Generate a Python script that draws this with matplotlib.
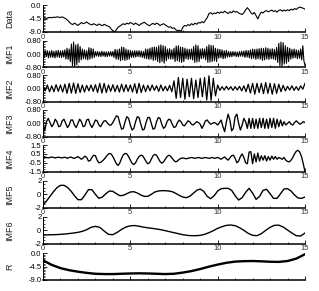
import numpy as np
import matplotlib
matplotlib.use("Agg")
import matplotlib.pyplot as plt
from matplotlib.ticker import FixedLocator, MultipleLocator

plt.rcParams['font.family'] = ['Liberation Sans', 'DejaVu Sans']

# ---------------- data ----------------
data_vals = [
    -4.5, -4.3, -4.4, -4.2, -4.1, -4.2, -4.0, -4.1, -3.9, -4.0,
    -4.1, -3.9, -4.2, -4.5, -5.0, -5.6, -6.2, -6.5, -6.0, -6.4,
    -6.8, -6.3, -5.8, -6.2, -6.0, -5.6, -6.1, -6.4, -6.6, -6.2,
    -6.5, -6.8, -6.3, -6.6, -6.9, -6.4, -6.7, -7.0, -7.2, -8.0,
    -8.6, -9.0, -8.2, -7.4, -7.0, -6.6, -6.2, -6.5, -6.0, -6.3,
    -5.8, -6.1, -6.5, -6.0, -6.4, -6.8, -6.3, -6.0, -5.7, -6.2,
    -6.6, -6.9, -6.4, -6.1, -6.5, -6.0, -6.3, -6.8, -6.5, -6.2,
    -6.6, -7.0, -7.4, -7.2, -7.8, -7.6, -8.2, -8.6, -8.4, -8.8,
    -7.5, -6.8, -7.0, -6.5, -6.8, -6.2, -6.6, -6.0, -6.4, -5.8,
    -6.0, -5.5, -5.9, -5.0, -4.2, -2.8, -2.5, -3.0, -2.6, -2.8,
    -2.3, -2.7, -2.2, -2.5, -2.0, -2.4, -2.8, -2.2, -2.5, -1.9,
    -2.3, -2.1, -2.6, -2.9, -3.1, -2.5, -1.6, -0.8, -1.5, -2.5,
    -3.0, -2.4, -3.5, -4.6, -3.2, -2.3, -2.6, -2.0, -1.8, -2.2,
    -1.9, -1.6, -2.1, -1.8, -2.3, -1.7, -1.5, -2.0, -1.6, -1.9,
    -1.5, -1.8, -1.3, -1.6, -1.1, -1.4, -0.9, -0.6, -0.8, -1.0,
    -1.3]

imf1_vals = [
    0.18, -0.2, 0.22, -0.15, 0.2, -0.22, 0.17, -0.19, 0.21, -0.2, 0.16, -0.23, 0.2, -0.18, 0.22, -0.2,
    0.19, -0.21, 0.2, -0.18, 0.25, -0.3, 0.35, -0.32, 0.3, -0.45, 0.6, -0.7, 0.72, -0.75, 0.55, -0.65,
    0.6, -0.5, 0.45, -0.35, 0.3, -0.28, 0.25, -0.3, 0.2, -0.35, 0.38, -0.3, 0.35, -0.25, 0.3, -0.2,
    0.15, -0.12, 0.16, -0.14, 0.13, -0.15, 0.17, -0.12, 0.14, -0.16, 0.13, -0.15, 0.14, -0.12, 0.15, -0.13,
    0.16, -0.2, 0.28, -0.3, 0.25, -0.32, 0.3, -0.4, 0.42, -0.35, 0.4, -0.38, 0.3, -0.35, 0.25, -0.3,
    0.22, -0.2, 0.18, -0.2, 0.2, -0.18, 0.19, -0.15, 0.2, -0.17, 0.18, -0.2, 0.15, -0.25, 0.3, -0.28,
    0.3, -0.32, 0.35, -0.3, 0.4, -0.38, 0.42, -0.35, 0.4, -0.45, 0.5, -0.52, 0.55, -0.45, 0.5, -0.55,
    0.45, -0.4, 0.3, -0.28, 0.32, -0.3, 0.25, -0.3, 0.35, -0.45, 0.48, -0.4, 0.5, -0.45, 0.42, -0.5,
    0.4, -0.45, 0.35, -0.28, 0.3, -0.32, 0.28, -0.3, 0.3, -0.35, 0.45, -0.5, 0.55, -0.48, 0.5, -0.45,
    0.3, -0.28, 0.32, -0.25, 0.3, -0.35, 0.45, -0.5, 0.55, -0.48, 0.52, -0.45, 0.5, -0.4, 0.35, -0.45,
    0.3, -0.25, 0.28, -0.22, 0.25, -0.28, 0.2, -0.25, 0.22, -0.18, 0.15, -0.17, 0.14, -0.16, 0.15, -0.12,
    0.14, -0.15, 0.12, -0.16, 0.15, -0.13, 0.16, -0.14, 0.18, -0.2, 0.22, -0.18, 0.2, -0.22, 0.25, -0.28,
    0.3, -0.25, 0.28, -0.32, 0.3, -0.28, 0.32, -0.3, 0.35, -0.38, 0.33, -0.35, 0.38, -0.3, 0.35, -0.32,
    0.3, -0.28, 0.32, -0.3, 0.28, -0.35, 0.4, -0.5, 0.65, -0.7, 0.72, -0.75, 0.68, -0.6, 0.5, -0.55,
    0.4, -0.45, 0.35, -0.3, 0.28, -0.25, 0.3, -0.22, 0.25, -0.28, 0.22, -0.25, 0.3, -0.35, 0.5, -0.4,
    -0.7]

imf2_vals = [
    0.1, -0.15, 0.2, -0.2, 0.15, -0.2, 0.22, -0.18,
    0.2, -0.22, 0.25, -0.3, 0.3, -0.28, 0.32, -0.3,
    0.28, -0.25, 0.2, -0.22, 0.18, -0.15, 0.2, -0.18,
    0.22, -0.25, 0.3, -0.28, 0.3, -0.25, 0.2, -0.18,
    0.22, -0.2, 0.18, -0.22, 0.25, -0.2, 0.22, -0.18,
    0.2, -0.22, 0.28, -0.3, 0.3, -0.25, 0.2, -0.2,
    0.18, -0.15, 0.2, -0.12, 0.15, -0.18, 0.2, -0.15,
    0.12, -0.15, 0.18, -0.2, 0.45, -0.6, 0.65, -0.55,
    0.6, -0.65, 0.55, -0.5, 0.6, -0.62, 0.5, -0.55,
    0.6, -0.5, 0.65, -0.7, 0.75, -0.72, 0.6, -0.45,
    0.2, -0.12, 0.1, -0.1, 0.12, -0.08, 0.1, -0.12,
    0.1, -0.1, 0.12, -0.15, 0.15, -0.2, 0.25, -0.28,
    0.3, -0.35, 0.3, -0.25, 0.3, -0.32, 0.35, -0.3,
    0.3, -0.35, 0.28, -0.3, 0.25, -0.2, 0.18, -0.15,
    0.12, -0.1, 0.15, -0.12, 0.1, -0.12, 0.15, -0.05,
    0.3]

imf3_vals = [
    0.0, -0.45, 0.1, 0.3, 0.05, -0.2, -0.05, 0.25, 0.1, -0.2,
    -0.15, 0.15, 0.25, 0.0, -0.25, -0.1, 0.2, 0.2, -0.1, -0.25,
    0.0, 0.25, 0.1, -0.2, -0.15, 0.2, 0.25, -0.05, -0.25, -0.05,
    0.2, 0.15, -0.1, -0.2, 0.0, 0.15, 0.15, 0.0, -0.1, -0.1,
    0.05, 0.25, 0.45, 0.4, 0.0, -0.35, -0.3, 0.1, 0.4, 0.3,
    -0.1, -0.4, -0.3, 0.1, 0.4, 0.35, -0.05, -0.4, -0.35, 0.05,
    0.35, 0.35, 0.0, -0.35, -0.3, 0.1, 0.35, 0.3, -0.05, -0.3,
    -0.2, 0.1, 0.25, 0.2, -0.05, -0.25, -0.2, 0.05, 0.2, 0.1,
    -0.1, -0.15, 0.0, 0.15, 0.1, -0.05, -0.1, 0.0, 0.1, 0.05,
    -0.05, -0.3, -0.1, 0.15, 0.2, 0.05, -0.05, 0.0, 0.05, 0.0,
    -0.1, 0.05, 0.2, -0.2, -0.5, 0.1, 0.55, 0.2, -0.45, -0.3,
    0.4, 0.55, 0.0, -0.4, -0.1, 0.3, 0.1, -0.3, 0.3, -0.3,
    0.3, -0.3, 0.25, -0.3, 0.3, -0.25, 0.3, -0.3, 0.25, -0.3,
    0.3, -0.25, 0.3, -0.3, 0.25, -0.2, 0.2, -0.15, 0.1, -0.1,
    0.0, 0.1, -0.05, -0.1, 0.05, 0.15, 0.05, -0.05, 0.0, 0.1,
    0.05]

imf4_vals = [
    0.1, 0.12, 0.1, 0.05, 0.1, 0.15, 0.1, 0.05, 0.1, 0.12,
    0.08, 0.05, 0.12, 0.1, 0.0, 0.1, 0.15, 0.05, 0.0, 0.1,
    0.2, 0.05, -0.1, 0.05, 0.25, 0.1, -0.3, -0.25, 0.1, 0.35,
    0.3, -0.2, -0.5, -0.45, -0.3, -0.1, 0.15, 0.4, 0.55, 0.5,
    0.2, -0.2, -0.6, -0.8, -0.5, 0.0, 0.4, 0.55, 0.5, 0.2,
    -0.2, -0.55, -0.7, -0.5, -0.1, 0.2, 0.35, 0.3, 0.0, -0.35,
    -0.6, -0.5, -0.1, 0.3, 0.45, 0.35, 0.0, -0.35, -0.55, -0.4,
    -0.1, 0.2, 0.35, 0.25, 0.0, -0.25, -0.4, -0.3, -0.1, 0.0,
    0.05, 0.0, -0.05, 0.0, 0.05, 0.1, 0.05, 0.0, 0.05, 0.1,
    0.05, 0.0, 0.05, 0.1, 0.05, 0.0, 0.05, 0.1, 0.0, 0.05,
    0.1, 0.0, -0.1, 0.05, 0.15, -0.05, -0.2, 0.05, 0.3, 0.35,
    0.0, -0.5, -0.3, 0.2, 0.5, 0.1, -0.5, -0.6, 0.7, 0.75,
    -0.6, 0.5, -0.4, 0.6, -0.3, 0.3, -0.2, 0.3, -0.3, 0.2,
    -0.2, 0.25, -0.1, 0.2, -0.1, 0.1, 0.0, -0.1, 0.1, -0.2,
    -0.35, -0.4, -0.2, 0.1, 0.5, 0.8, 0.9, 0.7, 0.2, -0.6,
    -1.5]

imf5_vals = [
    -1.6, -1.0, -0.3, 0.4, 1.0, 1.35, 1.35, 1.05, 0.5, -0.2,
    -0.8, -0.8, -0.1, 0.7, 0.7, 0.0, -0.6, -0.4, 0.1, 0.5,
    0.45, 0.1, -0.2, -0.15, 0.1, 0.35, 0.4, 0.2, -0.1, -0.3,
    -0.3, 0.0, 0.35, 0.5, 0.55, 0.55, 0.5, 0.4, 0.15, -0.15,
    -0.4, -0.5, -0.3, 0.15, 0.6, 0.8, 0.45, -0.3, -0.65, -0.2,
    0.5, 0.85, 0.9, 0.9, 0.6, -0.2, -0.85, -0.5, 0.3, 0.9,
    0.2, -0.75, -0.3, 0.6, 0.75, 0.1, -0.6, -0.6, 0.1, 0.8,
    0.85, 0.5, -0.1, -0.55, -0.6, -0.4]

imf6_vals = [
    -0.7, -0.68, -0.66, -0.64, -0.6, -0.55, -0.48, -0.4, -0.3, -0.15,
    0.1, 0.45, 0.6, 0.45, -0.1, -0.6, -0.65, -0.3, 0.15, 0.5,
    0.68, 0.72, 0.62, 0.48, 0.38, 0.3, 0.2, 0.1, -0.05, -0.2,
    -0.35, -0.5, -0.65, -0.75, -0.8, -0.8, -0.75, -0.6, -0.35, -0.05,
    0.3, 0.55, 0.75, 0.8, 0.7, 0.4, 0.0, -0.45, -0.75, -0.8,
    -0.5, 0.0, 0.45, 0.75, 0.78, 0.5, 0.05, -0.4, -0.8, -0.85,
    -0.4]

r_vals = [
    -2.4, -3.9, -5.0, -5.7, -6.2, -6.6, -6.9, -7.0, -7.0, -6.9,
    -6.8, -6.75, -6.8, -6.9, -7.0, -6.9, -6.5, -6.0, -5.3, -4.5,
    -3.8, -3.2, -2.8, -2.65, -2.6, -2.7, -2.85, -2.9, -2.6, -1.8,
    -0.3]

panel_names = ["Data", "IMF1", "IMF2", "IMF3", "IMF4", "IMF5", "IMF6", "R"]
panel_series = [data_vals, imf1_vals, imf2_vals, imf3_vals, imf4_vals,
                imf5_vals, imf6_vals, r_vals]
y_ticks = [[0.0, -4.5, -9.0], [0.8, 0.0, -0.8], [0.8, 0.0, -0.8], [0.8, 0.0, -0.8],
           [1.5, 0.5, -0.5, -1.5], [2, 0, -2], [2, 0, -2], [0.0, -4.5, -9.0]]
y_ticklabels = [["0.0", "-4.5", "-9.0"], ["0.80", "0.00", "-0.80"],
                ["0.80", "0.00", "-0.80"], ["0.80", "0.00", "-0.80"],
                ["1.5", "0.5", "-0.5", "-1.5"], ["2", "0", "-2"], ["2", "0", "-2"],
                ["0.0", "-4.5", "-9.0"]]
y_minor = [0.5, 0.1, 0.1, 0.1, 0.25, 0.5, 0.5, 0.5]
x_ticks = [0, 5, 10, 15]
x_ticklabels = ["0", "5", "10", "15"]
t_end = 15

# ---------------- layout ----------------
W, H = 319, 291
fig = plt.figure(figsize=(W / 100, H / 100), dpi=100)
left_px, right_px = 43, 305
tops_px = [5.3, 40.7, 75, 110, 145, 181, 217, 253.3]
height_px = 26.7
line_w = [0.8, 0.8, 0.9, 0.95, 0.95, 1.0, 1.0, 1.7]

for i, (name, vals) in enumerate(zip(panel_names, panel_series)):
    top = tops_px[i]
    ax = fig.add_axes([left_px / W, 1 - (top + height_px) / H,
                       (right_px - left_px) / W, height_px / H])
    t = np.linspace(0, t_end, len(vals))
    ax.plot(t, vals, color="black", lw=line_w[i])
    ax.set_xlim(0, t_end)
    ax.set_ylim(min(y_ticks[i]), max(y_ticks[i]))
    ax.yaxis.set_major_locator(FixedLocator(y_ticks[i]))
    ax.set_yticklabels(y_ticklabels[i])
    ax.yaxis.set_minor_locator(MultipleLocator(y_minor[i]))
    ax.xaxis.set_major_locator(FixedLocator(x_ticks))
    ax.xaxis.set_minor_locator(MultipleLocator(1))
    if i < len(panel_names) - 1:
        ax.set_xticklabels(x_ticklabels)
    else:
        ax.set_xticklabels([])
    ax.spines["top"].set_visible(False)
    ax.spines["right"].set_visible(False)
    ax.spines["bottom"].set_linewidth(1.1)
    ax.spines["left"].set_linewidth(0.7)
    ax.tick_params(axis="both", which="major", direction="in", length=3,
                   width=0.6, labelsize=5.5, pad=1.2, colors="black")
    ax.tick_params(axis="both", which="minor", direction="in", length=1.5,
                   width=0.5)
    ax.tick_params(axis="x", labelcolor="#333333")
    ax.set_ylabel(name, fontsize=6.5, labelpad=0, color="#222222")
    ax.yaxis.set_label_coords(-0.11, 0.5)
    ax.patch.set_alpha(0)

fig.savefig("out.png", dpi=100)
